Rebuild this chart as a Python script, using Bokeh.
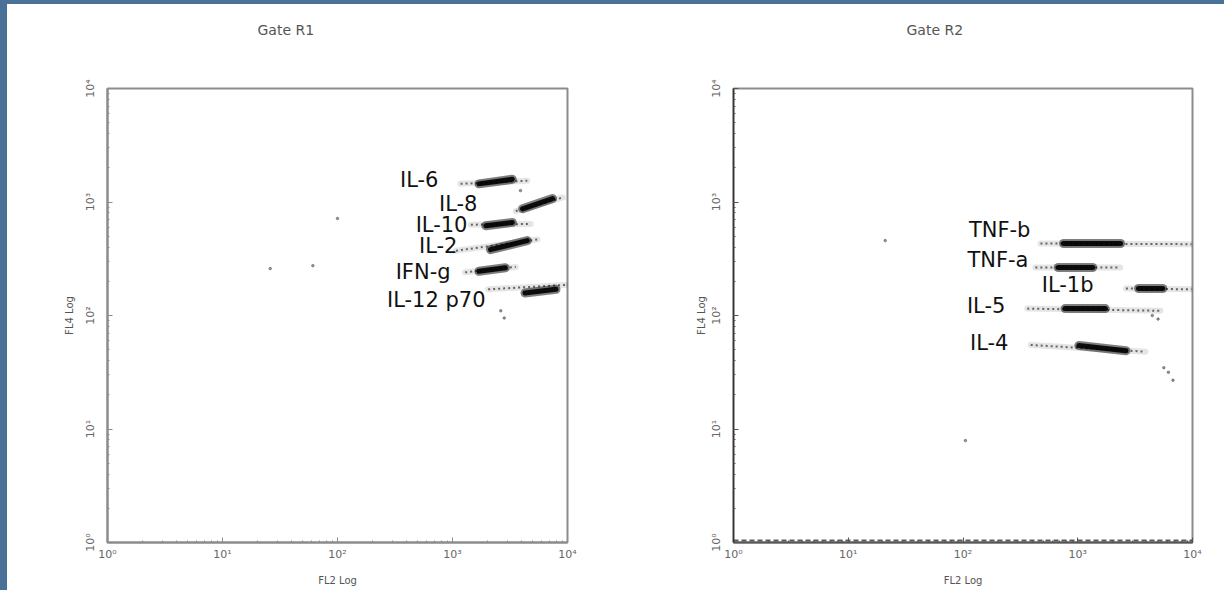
from bokeh.plotting import figure
from bokeh.layouts import row, column
from bokeh.models import CustomJSTickFormatter, ColumnDataSource, Spacer, Title
from bokeh.embed import file_html
from bokeh.resources import INLINE
from bokeh.core.properties import value

# ---------------- Gate R1 (FL2 vs FL4 intensities) ----------------
r1_names = ["IL-6", "IL-8", "IL-10", "IL-2", "IFN-g", "IL-12 p70"]
# dense core of each bead population
r1_core_fl2_lo = [1700, 4070, 1950, 2140, 1700, 4270]
r1_core_fl2_hi = [3310, 7410, 3310, 4470, 2880, 7940]
r1_core_fl4_lo = [1445, 871, 617, 380, 245, 158]
r1_core_fl4_hi = [1585, 1072, 661, 457, 263, 170]
# sparse spread of each population
r1_tail_fl2_lo = [1175, 3550, 1445, 1072, 1288, 2042]
r1_tail_fl2_hi = [4470, 9120, 4790, 5500, 3550, 9550]
r1_tail_fl4_lo = [1445, 832, 631, 372, 240, 170]
r1_tail_fl4_hi = [1540, 1096, 640, 468, 268, 186]
# label anchors (right end of each name)
r1_label_fl2 = [755, 1648, 1349, 1104, 962, 1936]
r1_label_fl4 = [1578, 970, 621, 406, 244, 136]
# scattered single events
r1_events_fl2 = [100, 26, 61, 2630, 2818, 3900]
r1_events_fl4 = [716, 259, 275, 110, 95, 1260]

# ---------------- Gate R2 ----------------
r2_names = ["TNF-b", "TNF-a", "IL-1b", "IL-5", "IL-4"]
r2_core_fl2_lo = [752, 676, 3390, 776, 1023]
r2_core_fl2_hi = [2360, 1349, 5500, 1738, 2630]
r2_core_fl4_lo = [431, 265, 173, 115, 54.5]
r2_core_fl4_hi = [431, 265, 173, 115, 49]
r2_tail_fl2_lo = [473, 427, 2630, 363, 389]
r2_tail_fl2_hi = [9800, 2344, 9800, 5250, 3890]
r2_tail_fl4_lo = [431, 265, 173, 115, 55]
r2_tail_fl4_hi = [425, 265, 170, 110, 48]
r2_label_fl2 = [387, 372, 1371, 234, 249]
r2_label_fl4 = [561, 311, 184, 122, 57]
r2_events_fl2 = [21, 105, 5623, 6166, 6761, 4467, 5012]
r2_events_fl4 = [457, 7.9, 34.7, 31.6, 26.9, 100, 93]
r2_floor_fl2 = [1, 10000]
r2_floor_fl4 = [1.04, 1.04]

tick_labels = ["10\u2070", "10\u00b9", "10\u00b2", "10\u00b3", "10\u2074"]

FONT = "DejaVu Sans"
BLUE = "#4a7299"

fmt_code = """
const labs = %s;
const e = Math.round(Math.log10(tick));
return labs[e];
""" % ("[" + ",".join('"%s"' % t for t in tick_labels) + "]")


def make_panel(title, title_offset, names, core, tail, labels, events,
               border_left, border_right, frame_w, ylab_standoff,
               axis_color, yaxis_color):
    p = figure(x_axis_type="log", y_axis_type="log",
               x_range=(1, 10000), y_range=(1, 10000),
               frame_width=frame_w, frame_height=454,
               min_border_left=border_left, min_border_right=border_right,
               min_border_top=84, min_border_bottom=48,
               title=title,
               output_backend="svg", toolbar_location=None,
               background_fill_color="white", border_fill_color="white")
    p.title.align = "left"
    p.title.offset = title_offset
    p.title.text_font = FONT
    p.title.text_font_size = "14px"
    p.title.text_font_style = "normal"
    p.title.text_color = "#555555"
    # blank band between the title and the frame
    p.add_layout(Title(text=" ", text_font_size="40px", standoff=0), "above")

    p.grid.visible = False
    p.outline_line_color = "#8c8c8c"
    p.outline_line_width = 2

    for ax in (p.xaxis[0], p.yaxis[0]):
        ax.formatter = CustomJSTickFormatter(code=fmt_code)
        ax.axis_line_color = axis_color
        ax.axis_line_width = 2
        ax.major_tick_line_color = axis_color
        ax.minor_tick_line_color = axis_color
        ax.major_tick_in = 5
        ax.major_tick_out = 0
        ax.minor_tick_in = 2
        ax.minor_tick_out = 0
        ax.major_label_text_font = FONT
        ax.major_label_text_font_size = "11px"
        ax.major_label_text_color = "#666666"
        ax.axis_label_text_font = FONT
        ax.axis_label_text_font_size = "10px"
        ax.axis_label_text_font_style = "normal"
        ax.axis_label_text_color = "#555555"
    p.yaxis[0].axis_line_color = yaxis_color
    p.yaxis[0].axis_line_width = 2 if yaxis_color == axis_color else 1.5

    p.xaxis[0].axis_label = "FL2 Log"
    p.xaxis[0].major_label_standoff = 5
    p.xaxis[0].axis_label_standoff = 11
    p.yaxis[0].axis_label = "FL4 Log"
    p.yaxis[0].major_label_orientation = "vertical"
    p.yaxis[0].major_label_standoff = 11
    p.yaxis[0].axis_label_standoff = ylab_standoff

    src = ColumnDataSource(dict(
        name=names,
        cx0=core[0], cx1=core[1], cy0=core[2], cy1=core[3],
        tx0=tail[0], tx1=tail[1], ty0=tail[2], ty1=tail[3],
        lx=labels[0], ly=labels[1]))

    # spread of each population (halo + speckles)
    p.segment("tx0", "ty0", "tx1", "ty1", source=src, line_color="black",
              line_width=6, line_alpha=0.10, line_cap="round")
    p.segment("tx0", "ty0", "tx1", "ty1", source=src, line_color="#222222",
              line_width=2, line_alpha=0.65, line_dash="2 3")
    # dense core
    p.segment("cx0", "cy0", "cx1", "cy1", source=src, line_color="black",
              line_width=9, line_alpha=0.5, line_cap="round")
    p.segment("cx0", "cy0", "cx1", "cy1", source=src, line_color="black",
              line_width=5, line_alpha=0.9, line_cap="round")

    p.scatter(events[0], events[1], size=2.5, color="#555555", alpha=0.6)

    p.text("lx", "ly", text="name", source=src, text_align="right",
           text_baseline="middle", text_font=value(FONT),
           text_font_size="21px", text_color="#111111")
    return p


p1 = make_panel("Gate R1", 150, r1_names,
                (r1_core_fl2_lo, r1_core_fl2_hi, r1_core_fl4_lo, r1_core_fl4_hi),
                (r1_tail_fl2_lo, r1_tail_fl2_hi, r1_tail_fl4_lo, r1_tail_fl4_hi),
                (r1_label_fl2, r1_label_fl4),
                (r1_events_fl2, r1_events_fl4),
                100, 61, 460, 6, "#8c8c8c", "#8c8c8c")

p2 = make_panel("Gate R2", 173, r2_names,
                (r2_core_fl2_lo, r2_core_fl2_hi, r2_core_fl4_lo, r2_core_fl4_hi),
                (r2_tail_fl2_lo, r2_tail_fl2_hi, r2_tail_fl4_lo, r2_tail_fl4_hi),
                (r2_label_fl2, r2_label_fl4),
                (r2_events_fl2, r2_events_fl4),
                105, 32, 459, 0, "#555555", "#333333")
# events piled up on the FL4 floor
p2.line(r2_floor_fl2, r2_floor_fl4, line_color="#333333", line_width=2,
        line_dash="5 3", line_alpha=0.8)

top_strip = Spacer(width=1224, height=4, styles={"background-color": BLUE})
left_strip = Spacer(width=7, height=586, styles={"background-color": BLUE})
layout = column(top_strip, row(left_strip, p1, p2))
open("out.html", "w").write(file_html(layout, INLINE))
